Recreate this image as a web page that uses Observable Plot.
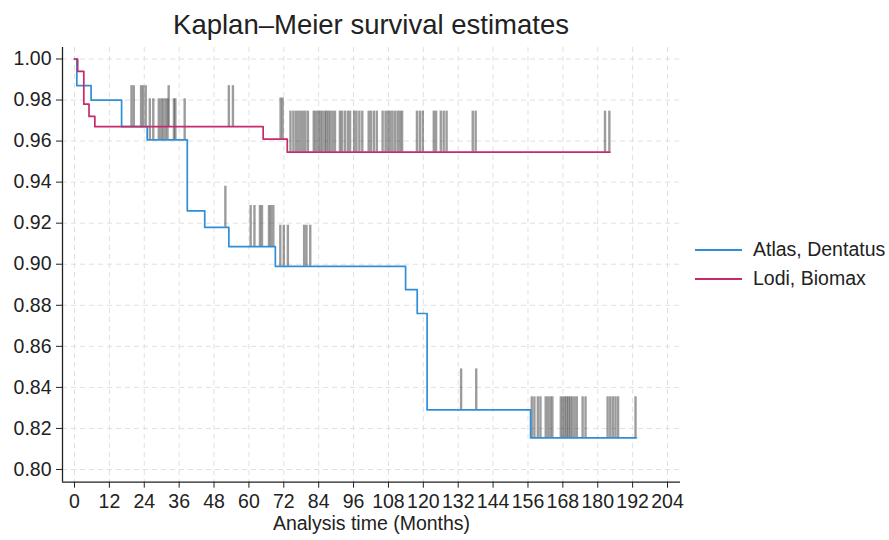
<!DOCTYPE html>
<html><head><meta charset="utf-8">
<script src="https://cdn.jsdelivr.net/npm/d3@7"></script>
<script src="https://cdn.jsdelivr.net/npm/@observablehq/plot@0.6"></script>
<style>
body{margin:0;background:#fff;font-family:"Liberation Sans",Arial,sans-serif;}
#wrap{position:relative;width:889px;height:540px;}
#title{position:absolute;left:62px;width:618px;top:9px;text-align:center;font-size:27.5px;color:#222;line-height:32px;}
#chart{position:absolute;left:0;top:40px;}
#chart svg{display:block;}
#legend{position:absolute;left:695px;top:235px;font-size:19.5px;color:#222;}
.item{display:flex;align-items:center;height:29px;}
.sw{width:47px;height:0;border-top:2px solid;margin-right:11px;}
</style></head><body>
<div id="wrap"><div id="title">Kaplan–Meier survival estimates</div><div id="chart"></div><div id="legend"></div></div>
<script>
const groups = ["Atlas, Dentatus", "Lodi, Biomax"];
const colors = ["#2f8ed8", "#c62a6b"];

const blueTimes = [0, 0.8, 5.7, 16.2, 25, 38.8, 44.8, 53.1, 69.1, 113.9, 117.9, 121.3, 156.9, 193.3];
const blueSurv  = [1, 0.987, 0.980, 0.967, 0.9606, 0.926, 0.918, 0.9086, 0.899, 0.8876, 0.876, 0.829, 0.8154, 0.8154];
const redTimes  = [0, 1.1, 3.2, 5.0, 7.0, 64.9, 73.2, 184.2];
const redSurv   = [1, 0.994, 0.978, 0.972, 0.967, 0.961, 0.9546, 0.9546];

const blueCensor = [25.9, 27.1, 29, 29.8, 30.5, 31.3, 32, 34.2, 34.7, 37.9,
  51.9, 60.6, 61.9, 63.8, 64.5, 66.9, 67.6, 68.4, 70.8, 72, 73.4, 79, 79.8, 81.1,
  133, 138.2,
  157.3, 158.2, 159.4, 160.3, 162.1, 162.9, 163.7, 164.4, 167.3, 168, 168.7, 169.3, 169.9, 170.5,
  171.2, 172, 172.8, 174.8, 175.8, 183.4, 184.3, 185.2, 186.1, 187, 193];
const redCensor = [19.6, 20.4, 22.9, 23.6, 24.5, 32.4, 53.1, 54.5, 70.9, 71.6,
  74.3, 75.3, 76.2, 77, 77.8, 78.6, 79.4, 80.3, 82.3, 83, 83.8, 84.5, 85.2, 86, 86.6, 87.3, 88, 88.8, 89.6,
  91.3, 92, 93, 94, 94.8, 96.2, 97, 98, 99, 101.2, 102, 103, 104, 106, 107, 107.8, 108.6, 109.4, 110.3,
  111.2, 112, 112.7, 117.8, 118.8, 119.8, 123.6, 124.4, 126, 127, 128, 137, 138, 182.5, 184];
const censorTick = 0.02;

const xTicks = [0, 12, 24, 36, 48, 60, 72, 84, 96, 108, 120, 132, 144, 156, 168, 180, 192, 204];
const yTicks = [0.80, 0.82, 0.84, 0.86, 0.88, 0.90, 0.92, 0.94, 0.96, 0.98, 1.00];
const xLabel = "Analysis time (Months)";

const xDom = [-4.128, 208.47], yDom = [0.7938, 1.0056];

const curve = (times, surv, g) => times.map((t, i) => ({t, s: surv[i], g}));
const blueData = curve(blueTimes, blueSurv, groups[0]);
const redData = curve(redTimes, redSurv, groups[1]);
const survAt = (times, surv, t) => { let s = surv[0]; for (let i = 0; i < times.length; i++) if (times[i] <= t) s = surv[i]; return s; };
const censorData = [
  ...blueCensor.map(t => { const s = survAt(blueTimes, blueSurv, t); return {t, s, top: s + censorTick}; }),
  ...redCensor.map(t => { const s = survAt(redTimes, redSurv, t); return {t, s, top: s + censorTick}; })
];

const chart = Plot.plot({
  width: 889, height: 500,
  marginLeft: 62, marginRight: 209, marginTop: 7, marginBottom: 58.3,
  x: {domain: xDom},
  y: {domain: yDom},
  style: {fontFamily: "'Liberation Sans', Arial, sans-serif", fontSize: "19.5px", color: "#222", background: "white"},
  marks: [
    Plot.gridX(xTicks, {stroke: "#e0e0e0", strokeOpacity: 1, strokeDasharray: "5,4"}),
    Plot.gridY(yTicks, {stroke: "#e0e0e0", strokeOpacity: 1, strokeDasharray: "5,4"}),
    Plot.ruleX(censorData, {x: "t", y1: "s", y2: "top", stroke: "#3a3a3a", strokeOpacity: 0.5, strokeWidth: 2.4}),
    Plot.line(blueData, {x: "t", y: "s", curve: "step-after", stroke: colors[0], strokeWidth: 1.7}),
    Plot.line(redData, {x: "t", y: "s", curve: "step-after", stroke: colors[1], strokeWidth: 1.7}),
    Plot.ruleX([xDom[0]], {stroke: "#222", strokeWidth: 1.3}),
    Plot.ruleY([yDom[0]], {stroke: "#222", strokeWidth: 1.3}),
    Plot.axisX(xTicks, {tickSize: 6, tickPadding: 6, label: null, fontSize: 19.5}),
    Plot.axisY(yTicks, {tickSize: 6, tickPadding: 5, label: null, fontSize: 19.5, tickFormat: d3.format(".2f")}),
    Plot.text([xLabel], {text: d => d, frameAnchor: "bottom", dy: 48, fontSize: 19.5})
  ]
});
document.getElementById("chart").appendChild(chart);

const legend = document.getElementById("legend");
groups.forEach((g, i) => {
  const it = document.createElement("div"); it.className = "item";
  const sw = document.createElement("span"); sw.className = "sw"; sw.style.borderTopColor = colors[i];
  const lb = document.createElement("span"); lb.textContent = g;
  it.appendChild(sw); it.appendChild(lb); legend.appendChild(it);
});
</script>
</body></html>
